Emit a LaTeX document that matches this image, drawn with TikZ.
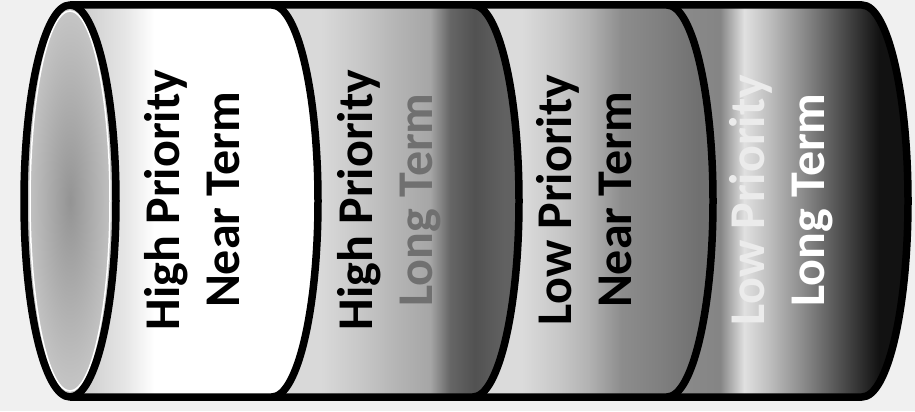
\documentclass[tikz,border=0pt]{standalone}
\usepackage{fontspec}
\setmainfont{Carlito}
\pgfdeclarehorizontalshading{segone}{100bp}{color(0bp)=(black!22); color(25bp)=(black!22); color(36bp)=(black!10); color(42bp)=(white); color(100bp)=(white)}
\pgfdeclarehorizontalshading{segtwo}{100bp}{color(0bp)=(black!15); color(25bp)=(black!15); color(35bp)=(black!15); color(43bp)=(black!22); color(51bp)=(black!30); color(57bp)=(black!35); color(61bp)=(black!60); color(66bp)=(black!68); color(72bp)=(black!62); color(100bp)=(black!62)}
\pgfdeclarehorizontalshading{segthree}{100bp}{color(0bp)=(black!14); color(25bp)=(black!14); color(35bp)=(black!14); color(43bp)=(black!22); color(49bp)=(black!30); color(56bp)=(black!45); color(64bp)=(black!50); color(72bp)=(black!56); color(100bp)=(black!56)}
\pgfdeclarehorizontalshading{segfour}{100bp}{color(0bp)=(black!45); color(25bp)=(black!45); color(36bp)=(black!48); color(41bp)=(black!12); color(46bp)=(black!25); color(53bp)=(black!45); color(63bp)=(black!75); color(69bp)=(black!93); color(100bp)=(black!93)}
\definecolor{bgc}{gray}{0.94}
\tikzset{
  lbl/.style={rotate=90, align=center, inner sep=0pt,
    font=\bfseries\fontsize{50bp}{60bp}\selectfont},
  rim/.style={line width=7.5bp, black, line join=round},
}
\newcommand{\segpath}[2]{(#1,406) -- (#2,406) arc[start angle=90,end angle=-90,x radius=46,y radius=196] -- (#1,14) arc[start angle=-90,end angle=90,x radius=46,y radius=196] -- cycle}
\begin{document}
\begin{tikzpicture}[x=1bp,y=1bp]
\fill[bgc] (0,0) rectangle (915,411);
\useasboundingbox (0,0) rectangle (915,411);
% segments
\shade[shading=segone] \segpath{70}{272};
\shade[shading=segtwo] \segpath{272}{473};
\shade[shading=segthree] \segpath{473}{667};
\shade[shading=segfour] \segpath{667}{862};
% left end
\shade[inner color=black!42, outer color=black!22] (70,210) ellipse [x radius=46, y radius=196];
\draw[white, line width=1.5bp] (70,210) ellipse [x radius=40, y radius=190];
% outlines
\draw[rim] (70,406) -- (862,406) arc[start angle=90,end angle=-90,x radius=46,y radius=196] -- (70,14);
\draw[rim] (70,210) ellipse [x radius=46, y radius=196];
\draw[rim] (272,406) arc[start angle=90,end angle=-90,x radius=46,y radius=196];
\draw[rim] (473,406) arc[start angle=90,end angle=-90,x radius=46,y radius=196];
\draw[rim] (667,406) arc[start angle=90,end angle=-90,x radius=46,y radius=196];
% labels
\node[lbl] (t1) at (192,211) {High Priority\\Near Term};
\node[lbl] (t2) at (389,211) {High Priority\\{\color{black!56}Long Term}};
\node[lbl] (t3) at (584,211) {Low Priority\\Near Term};
\node[lbl] (t4) at (781,211) {{\color{black!8}Low Priority}\\{\color{white}Long Term}};
\end{tikzpicture}
\end{document}
